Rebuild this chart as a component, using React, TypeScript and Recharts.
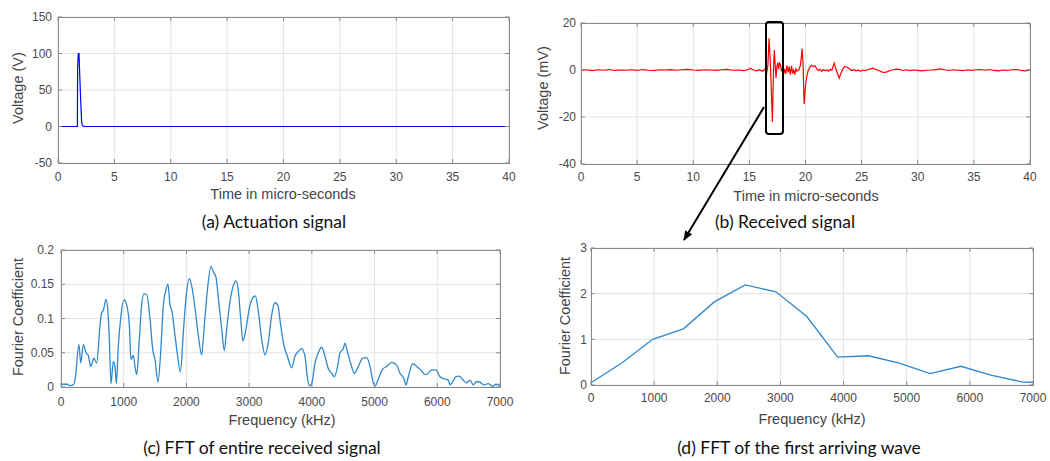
import React from 'react';
import { LineChart, Line, XAxis, YAxis, CartesianGrid } from 'recharts';

// (a) Actuation signal
const actTime = [0, 1.72, 1.74, 1.8, 1.86, 2.0, 2.1, 2.16, 2.25, 2.4, 40];
const actVolt = [0, 0, 80, 100, 100, 40, 5, 2, 0.5, 0, 0];

// (b) Received signal
const recTime = [0, 0.5, 1, 1.5, 2, 2.5, 3, 3.5, 4, 4.5, 5, 5.5, 6, 6.5, 7, 7.5, 8, 8.5, 9, 9.5, 10, 10.5, 11, 11.5, 12, 12.5, 13, 13.5, 14, 14.5, 14.8, 15.1, 15.3, 15.6, 15.9, 16.2, 16.4, 16.55, 16.65, 16.75, 16.85, 16.95, 17.05, 17.15, 17.22, 17.3, 17.37, 17.45, 17.52, 17.6, 17.68, 17.76, 17.85, 17.95, 18.05, 18.15, 18.25, 18.35, 18.45, 18.55, 18.65, 18.75, 18.85, 18.95, 19.05, 19.15, 19.25, 19.4, 19.55, 19.7, 19.78, 19.88, 19.98, 20.1, 20.25, 20.4, 20.55, 20.7, 20.85, 21.0, 21.15, 21.3, 21.45, 21.6, 21.75, 21.9, 22.05, 22.2, 22.35, 22.55, 22.7, 22.85, 23.0, 23.15, 23.3, 23.5, 23.7, 23.9, 24.1, 24.3, 24.5, 24.7, 24.9, 25.1, 25.4, 25.7, 26.0, 26.3, 26.6, 26.9, 27.2, 27.5, 27.8, 28.1, 28.4, 28.7, 29.0, 29.3, 29.6, 30.0, 30.4, 30.8, 31.2, 31.6, 32.0, 32.4, 32.8, 33.2, 33.6, 34.0, 34.4, 34.8, 35.2, 35.6, 36.0, 36.4, 36.8, 37.2, 37.6, 38.0, 38.4, 38.8, 39.2, 39.6, 40.0];
const recVolt = [-0.2, 0.1, -0.3, 0.1, -0.1, 0.2, -0.2, 0.0, -0.1, 0.1, -0.2, 0.2, -0.1, -0.3, 0.1, 0.0, 0.2, -0.1, 0.1, 0.3, 0.0, -0.2, 0.1, 0.0, -0.2, 0.1, 0.3, -0.1, 0.0, -0.3, 0.1, 0.7, 0.2, -0.4, 0.0, -0.5, 0.6, -1.0, 2.0, 13.5, 5, -8, -22, 0, 8.5, 2, -3.5, 1.5, 3, 0.5, 3, 2.5, -0.5, 1, -2, 0.5, -1.5, 2, -1, 1.5, -2, 1.8, -1.5, 0, -2, 0.5, -0.5, 0, 2, 9, 3, -14.5, -8, -3, 0, 1.2, 2, 1.5, 1.8, 0.5, -0.2, 0.3, -0.6, 0.2, -0.3, 0.0, -0.5, 0.2, 0, 3, 0.5, -1.5, -3.5, -1.5, 0.3, 1.5, 1.2, 0.6, -0.2, 0.1, -0.4, -0.1, -0.6, 0.0, -0.2, 0.4, 0.8, 0.2, -0.4, -1.0, -0.9, -0.3, 0.1, 0.4, 0.2, -0.2, 0.1, -0.3, 0.0, -0.2, -0.4, -0.1, 0.0, 0.2, 0.5, 0.1, -0.2, 0.1, -0.1, -0.3, 0.0, -0.2, 0.1, 0.2, -0.1, 0.2, -0.2, -0.4, 0.0, -0.2, 0.1, 0.2, -0.2, -0.4, 0.1];

// (c) FFT of entire received signal
const fftFreq = [0, 100, 143, 197, 223, 287, 314, 356, 399, 436, 473, 526, 569, 622, 648, 675, 718, 744, 771, 797, 834, 861, 882, 914, 951, 1005, 1047, 1090, 1116, 1153, 1180, 1207, 1249, 1286, 1323, 1366, 1419, 1462, 1499, 1547, 1589, 1632, 1669, 1706, 1738, 1770, 1818, 1860, 1903, 1951, 1988, 2046, 2089, 2137, 2190, 2243, 2285, 2333, 2392, 2429, 2472, 2509, 2562, 2604, 2642, 2695, 2748, 2790, 2828, 2865, 2902, 2950, 3003, 3056, 3099, 3147, 3200, 3253, 3306, 3359, 3412, 3455, 3503, 3556, 3609, 3678, 3731, 3784, 3837, 3890, 3927, 3959, 3997, 4050, 4103, 4156, 4209, 4262, 4316, 4358, 4411, 4449, 4502, 4528, 4571, 4624, 4677, 4741, 4810, 4874, 4927, 4969, 5007, 5060, 5129, 5193, 5272, 5352, 5405, 5469, 5501, 5538, 5607, 5671, 5735, 5804, 5857, 5910, 5980, 6043, 6112, 6176, 6203, 6245, 6298, 6351, 6415, 6468, 6521, 6574, 6628, 6681, 6745, 6814, 6883, 6936, 7000];
const fftCoef = [0.004, 0.004, 0.002, 0.003, 0.01, 0.062, 0.035, 0.062, 0.05, 0.046, 0.03, 0.042, 0.035, 0.09, 0.108, 0.112, 0.128, 0.115, 0.07, 0.005, 0.037, 0.03, 0.005, 0.06, 0.1, 0.127, 0.12, 0.09, 0.04, 0.046, 0.03, 0.018, 0.07, 0.12, 0.136, 0.135, 0.1, 0.055, 0.04, 0.007, 0.05, 0.12, 0.14, 0.15, 0.12, 0.11, 0.075, 0.045, 0.022, 0.08, 0.125, 0.158, 0.145, 0.115, 0.075, 0.047, 0.09, 0.14, 0.176, 0.168, 0.16, 0.13, 0.085, 0.053, 0.085, 0.125, 0.148, 0.155, 0.14, 0.1, 0.067, 0.085, 0.115, 0.13, 0.133, 0.11, 0.07, 0.047, 0.065, 0.105, 0.123, 0.12, 0.09, 0.06, 0.045, 0.028, 0.045, 0.052, 0.056, 0.045, 0.015, 0.002, 0.005, 0.035, 0.05, 0.058, 0.045, 0.027, 0.02, 0.015, 0.03, 0.05, 0.056, 0.064, 0.05, 0.033, 0.02, 0.03, 0.042, 0.043, 0.03, 0.01, 0.001, 0.012, 0.026, 0.03, 0.036, 0.032, 0.02, 0.012, 0.003, 0.015, 0.034, 0.03, 0.025, 0.018, 0.02, 0.025, 0.025, 0.015, 0.012, 0.01, 0.003, 0.008, 0.015, 0.016, 0.01, 0.006, 0.01, 0.003, 0.008, 0.007, 0.003, 0.005, 0.001, 0.004, 0.002];

// (d) FFT of the first arriving wave
const waveFreq = [0, 488, 977, 1465, 1953, 2441, 2930, 3418, 3906, 4395, 4883, 5371, 5859, 6348, 6836, 7000];
const waveCoef = [0.05, 0.48, 1.0, 1.23, 1.82, 2.19, 2.04, 1.5, 0.61, 0.64, 0.48, 0.25, 0.41, 0.21, 0.065, 0.06];

const timeTicks = [0, 5, 10, 15, 20, 25, 30, 35, 40];
const freqTicks = [0, 1000, 2000, 3000, 4000, 5000, 6000, 7000];
const actTicks = [-50, 0, 50, 100, 150];
const recTicks = [-40, -20, 0, 20];
const fftTicks = [0, 0.05, 0.1, 0.15, 0.2];
const waveTicks = [0, 1, 2, 3];

const zip = (xs: number[], ys: number[]) => xs.map((x, i) => ({ x, y: ys[i] }));

const BOX = '#8a8a8a';
const TICKCOL = '#4a4a4a';
const TICKFONT = '"Liberation Sans", Arial, sans-serif';

type Rect = { l: number; t: number; r: number; b: number };

function Panel(props: {
  plot: Rect; data: { x: number; y: number }[]; xDomain: [number, number]; xTicks: number[];
  yDomain: [number, number]; yTicks: number[]; color: string; sw: number; xLabOff: number; yLabOff: number;
  curve?: 'linear' | 'monotone';
}) {
  const { plot, data, xDomain, xTicks, yDomain, yTicks, color, sw, xLabOff, yLabOff, curve } = props;
  const pw = plot.r - plot.l;
  const ph = plot.b - plot.t;
  const ML = 60, MT = 10, MR = 30;
  const W = pw + ML + MR;
  const H = ph + MT + 30;
  const bottom = MT + ph;
  const right = ML + pw;
  const XTick = (p: any) => (
    <g>
      <line x1={p.x} x2={p.x} y1={bottom} y2={bottom - 4} stroke={BOX} />
      <line x1={p.x} x2={p.x} y1={MT} y2={MT + 4} stroke={BOX} />
      <text x={p.x} y={bottom + xLabOff} dy="0.35em" textAnchor="middle" fill={TICKCOL} fontSize={12} fontFamily={TICKFONT}>
        {p.payload.value}
      </text>
    </g>
  );
  const YTick = (p: any) => (
    <g>
      <line x1={ML} x2={ML + 4} y1={p.y} y2={p.y} stroke={BOX} />
      <line x1={right - 4} x2={right} y1={p.y} y2={p.y} stroke={BOX} />
      <text x={ML - yLabOff} y={p.y} dy="0.35em" textAnchor="end" fill={TICKCOL} fontSize={12} fontFamily={TICKFONT}>
        {p.payload.value}
      </text>
    </g>
  );
  return (
    <>
      <div style={{ position: 'absolute', left: plot.l - ML, top: plot.t - MT }}>
        <LineChart width={W} height={H} data={data} margin={{ top: MT, right: MR, left: 0, bottom: 0 }}>
          <CartesianGrid stroke="#e4e4e4" strokeWidth={1} />
          <XAxis dataKey="x" type="number" domain={xDomain} ticks={xTicks} interval={0} allowDataOverflow
            axisLine={false} tickLine={false} height={30} tick={XTick} />
          <YAxis type="number" domain={yDomain} ticks={yTicks} interval={0} allowDataOverflow
            axisLine={false} tickLine={false} width={ML} tick={YTick} />
          <Line dataKey="y" type={curve || 'linear'} stroke={color} strokeWidth={sw} dot={false} isAnimationActive={false} />
        </LineChart>
      </div>
      <div style={{ position: 'absolute', left: plot.l, top: plot.t, width: pw + 1, height: ph + 1, border: `1px solid ${BOX}`, boxSizing: 'border-box', pointerEvents: 'none' }} />
    </>
  );
}

const titleStyle: React.CSSProperties = {
  position: 'absolute', whiteSpace: 'nowrap', fontFamily: TICKFONT, fontSize: 14.5, color: '#444',
  transform: 'translate(-50%, -50%)', lineHeight: 1,
};
const yTitleStyle: React.CSSProperties = { ...titleStyle, transform: 'translate(-50%, -50%) rotate(-90deg)' };
const capStyle: React.CSSProperties = {
  position: 'absolute', whiteSpace: 'nowrap', fontFamily: 'Lato, "Open Sans", sans-serif', fontSize: 17.5, color: '#111',
  transform: 'translate(-50%, -50%)', lineHeight: 1,
};

export default function App() {
  const A: Rect = { l: 58, t: 17, r: 509, b: 163 };
  const B: Rect = { l: 581, t: 23, r: 1030, b: 164 };
  const C: Rect = { l: 61, t: 250, r: 500, b: 387 };
  const D: Rect = { l: 591, t: 248, r: 1033, b: 385 };
  return (
    <div style={{ position: 'absolute', left: 0, top: 0, width: 1050, height: 461, background: '#fff', overflow: 'hidden' }}>
      <Panel plot={A} data={zip(actTime, actVolt)} xDomain={[0, 40]} xTicks={timeTicks} yDomain={[-50, 150]} yTicks={actTicks} color="#0000ff" sw={1.2} xLabOff={14} yLabOff={6} />
      <Panel plot={B} data={zip(recTime, recVolt)} xDomain={[0, 40]} xTicks={timeTicks} yDomain={[-40, 20]} yTicks={recTicks} color="#ff0000" sw={1.2} xLabOff={13} yLabOff={5} />
      <Panel plot={C} data={zip(fftFreq, fftCoef)} xDomain={[0, 7000]} xTicks={freqTicks} yDomain={[0, 0.2]} yTicks={fftTicks} color="#2f88cc" sw={1.3} xLabOff={15} yLabOff={7} curve="monotone" />
      <Panel plot={D} data={zip(waveFreq, waveCoef)} xDomain={[0, 7000]} xTicks={freqTicks} yDomain={[0, 3]} yTicks={waveTicks} color="#2f88cc" sw={1.3} xLabOff={13} yLabOff={4} />

      <div style={{ ...titleStyle, left: 283, top: 194 }}>Time in micro-seconds</div>
      <div style={{ ...titleStyle, left: 806, top: 196 }}>Time in micro-seconds</div>
      <div style={{ ...titleStyle, left: 282, top: 420 }}>Frequency (kHz)</div>
      <div style={{ ...titleStyle, left: 812, top: 419 }}>Frequency (kHz)</div>

      <div style={{ ...yTitleStyle, left: 18, top: 88 }}>Voltage (V)</div>
      <div style={{ ...yTitleStyle, left: 543, top: 88 }}>Voltage (mV)</div>
      <div style={{ ...yTitleStyle, left: 18, top: 317 }}>Fourier Coefficient</div>
      <div style={{ ...yTitleStyle, left: 565, top: 316 }}>Fourier Coefficient</div>

      <div style={{ ...capStyle, left: 274, top: 222 }}>(a) Actuation signal</div>
      <div style={{ ...capStyle, left: 785, top: 222 }}>(b) Received signal</div>
      <div style={{ ...capStyle, left: 262, top: 448 }}>(c) FFT of entire received signal</div>
      <div style={{ ...capStyle, left: 799, top: 448 }}>(d) FFT of the first arriving wave</div>

      <svg width={1050} height={461} style={{ position: 'absolute', left: 0, top: 0, pointerEvents: 'none' }}>
        <defs>
          <marker id="arrow" markerWidth="10" markerHeight="8" refX="9" refY="4" orient="auto" markerUnits="userSpaceOnUse">
            <path d="M0,0 L10,4 L0,8 Z" fill="#000" />
          </marker>
        </defs>
        <rect x={766} y={22} width={17} height={112} rx={3} ry={3} fill="none" stroke="#000" strokeWidth={2} />
        <line x1={764} y1={107} x2={684} y2={240} stroke="#000" strokeWidth={2} markerEnd="url(#arrow)" />
      </svg>
    </div>
  );
}
